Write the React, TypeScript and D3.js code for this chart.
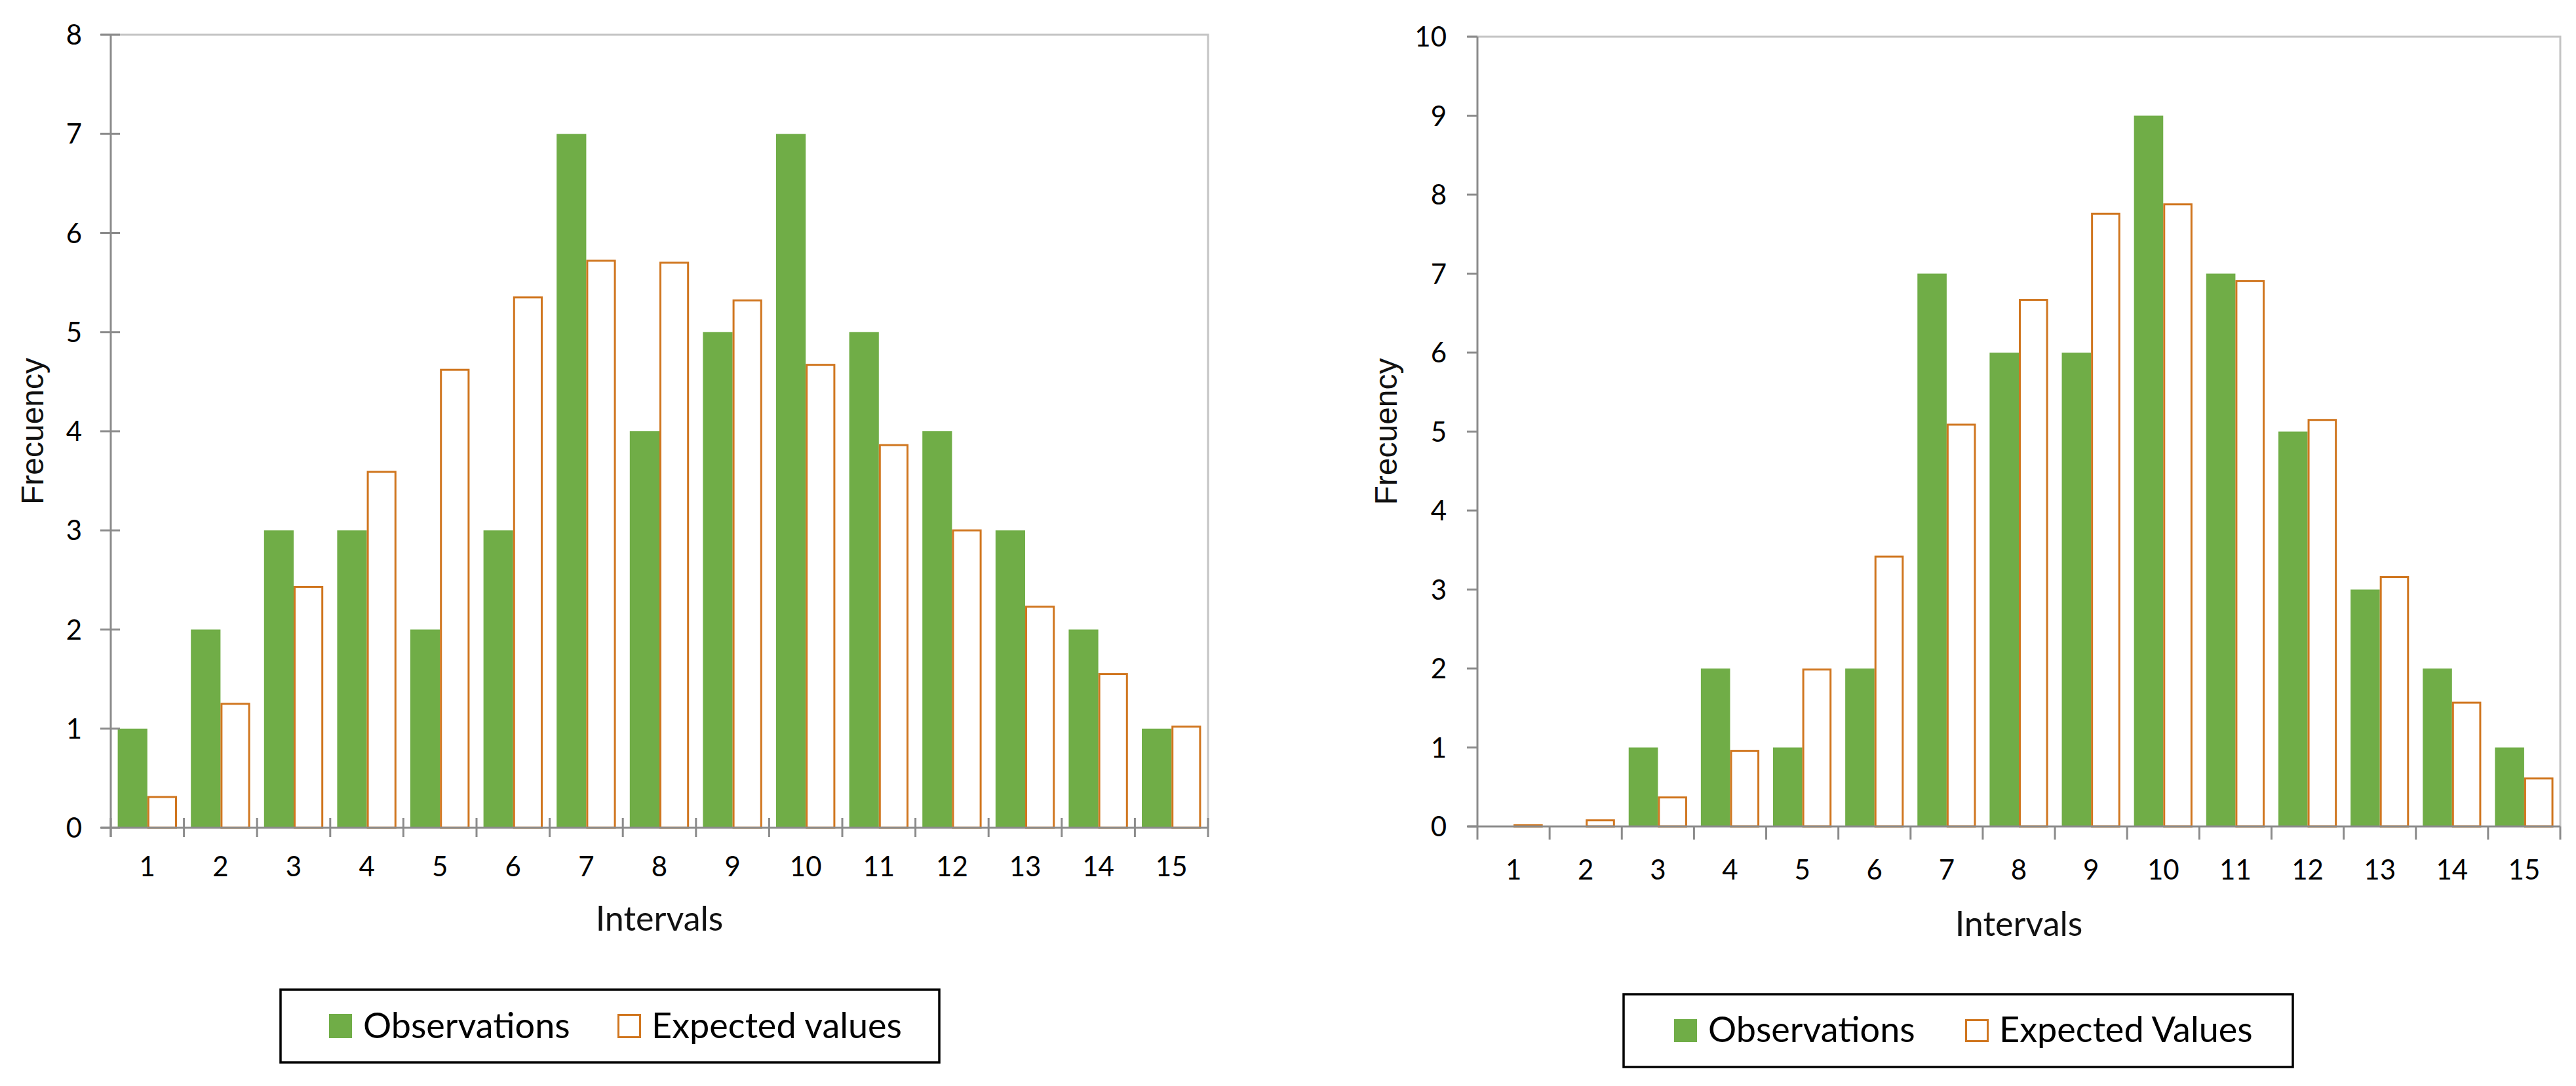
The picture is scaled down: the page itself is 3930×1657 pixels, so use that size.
import { useEffect, useRef } from 'react';
import * as d3 from 'd3';

// categories (intervals) and series values
const intervals = ['1', '2', '3', '4', '5', '6', '7', '8', '9', '10', '11', '12', '13', '14', '15'];

const observationsA = [1, 2, 3, 3, 2, 3, 7, 4, 5, 7, 5, 4, 3, 2, 1];
const expectedA = [0.32, 1.26, 2.44, 3.6, 4.63, 5.36, 5.73, 5.71, 5.33, 4.68, 3.87, 3.01, 2.24, 1.56, 1.03];

const observationsB = [0, 0, 1, 2, 1, 2, 7, 6, 6, 9, 7, 5, 3, 2, 1];
const expectedB = [0.03, 0.09, 0.38, 0.97, 2.0, 3.43, 5.1, 6.68, 7.77, 7.89, 6.92, 5.16, 3.17, 1.58, 0.62];

const yTicksA = [0, 1, 2, 3, 4, 5, 6, 7, 8];
const yTicksB = [0, 1, 2, 3, 4, 5, 6, 7, 8, 9, 10];

const legendA = ['Observations', 'Expected values'];
const legendB = ['Observations', 'Expected Values'];

const GREEN = '#70AD47';
const ORANGE = '#D0761F';
const AXIS = '#8B8B8B';
const FRAME = '#C4C4C4';
const TICK_FONT = 'Lato, "Open Sans", sans-serif';
const TITLE_FONT = '"Liberation Sans", Arial, sans-serif';

type ChartOpts = {
  x0: number; x1: number; y0: number; y1: number;
  yMax: number; ticks: number[];
  obs: number[]; exp: number[];
  crossTicks: boolean;
  yLabelX: number; xLabelBase: number;
  yTitleX: number; xTitleBase: number;
  legend: { x: number; y: number; w: number; h: number; sw1: number; sw2: number; swY: number; swH: number; base: number; labels: string[] };
};

function drawChart(svg: d3.Selection<SVGSVGElement, unknown, null, undefined>, o: ChartOpts) {
  const g = svg.append('g');
  const x = d3.scaleBand<string>().domain(intervals).range([o.x0, o.x1]).paddingInner(0.19).paddingOuter(0.095);
  const step = (o.x1 - o.x0) / intervals.length;
  const sub = d3.scaleBand<string>().domain(['obs', 'exp']).range([0, x.bandwidth()]);
  const y = d3.scaleLinear().domain([0, o.yMax]).range([o.y1, o.y0]);

  // frame (top + right)
  g.append('path')
    .attr('d', `M${o.x0 - 15},${y(o.yMax)}H${o.x1}V${o.y1}`)
    .attr('fill', 'none').attr('stroke', FRAME).attr('stroke-width', 3);

  // observations
  g.selectAll('.obs').data(o.obs).enter().append('rect')
    .attr('x', (_, i) => (x(intervals[i]) as number) + (sub('obs') as number))
    .attr('y', d => y(d))
    .attr('width', sub.bandwidth())
    .attr('height', d => o.y1 - y(d))
    .attr('fill', GREEN);

  // expected values (outlined)
  g.selectAll('.exp').data(o.exp).enter().append('rect')
    .attr('x', (_, i) => (x(intervals[i]) as number) + (sub('exp') as number) + 1.5)
    .attr('y', d => y(d) + 1.5)
    .attr('width', sub.bandwidth() - 3)
    .attr('height', d => Math.max(0, o.y1 - y(d) - 1.5))
    .attr('fill', '#fff')
    .attr('stroke', ORANGE).attr('stroke-width', 3);

  // y axis
  g.append('line').attr('x1', o.x0).attr('x2', o.x0).attr('y1', y(o.yMax)).attr('y2', o.y1 + (o.crossTicks ? 14 : 0))
    .attr('stroke', AXIS).attr('stroke-width', 3);
  g.selectAll('.ytick').data(o.ticks).enter().append('line')
    .attr('x1', o.x0 - 16).attr('x2', o.x0 + (o.crossTicks ? 14 : 0))
    .attr('y1', d => y(d)).attr('y2', d => y(d))
    .attr('stroke', AXIS).attr('stroke-width', 3);
  g.selectAll('.ylab').data(o.ticks).enter().append('text')
    .attr('x', o.yLabelX).attr('y', d => y(d)).attr('dy', '0.36em')
    .attr('text-anchor', 'end').attr('font-family', TICK_FONT).attr('font-size', 42).attr('fill', '#000')
    .text(d => d);

  // x axis
  g.append('line').attr('x1', o.x0 - 15).attr('x2', o.x1).attr('y1', o.y1).attr('y2', o.y1)
    .attr('stroke', AXIS).attr('stroke-width', 3);
  const xt = d3.range(intervals.length + 1).map(i => o.x0 + i * step);
  g.selectAll('.xtick').data(xt).enter().append('line')
    .attr('x1', d => d).attr('x2', d => d)
    .attr('y1', o.y1 - (o.crossTicks ? 15 : 0)).attr('y2', o.y1 + (o.crossTicks ? 14 : 20))
    .attr('stroke', AXIS).attr('stroke-width', 3);
  g.selectAll('.xlab').data(intervals).enter().append('text')
    .attr('x', d => (x(d) as number) + x.bandwidth() / 2).attr('y', o.xLabelBase)
    .attr('text-anchor', 'middle').attr('font-family', TICK_FONT).attr('font-size', 42).attr('fill', '#000')
    .text(d => d);

  // axis titles
  g.append('text')
    .attr('transform', `translate(${o.yTitleX},${(y(o.yMax) + o.y1) / 2}) rotate(-90)`)
    .attr('text-anchor', 'middle').attr('font-family', TITLE_FONT).attr('font-size', 48).attr('fill', '#111')
    .text('Frecuency');
  g.append('text')
    .attr('x', (o.x0 + o.x1) / 2).attr('y', o.xTitleBase)
    .attr('text-anchor', 'middle').attr('font-family', TICK_FONT).attr('font-size', 52).attr('fill', '#111')
    .text('Intervals');

  // legend
  const L = o.legend;
  g.append('rect').attr('x', L.x).attr('y', L.y).attr('width', L.w).attr('height', L.h)
    .attr('fill', '#fff').attr('stroke', '#000').attr('stroke-width', 3.5);
  g.append('rect').attr('x', L.sw1).attr('y', L.swY).attr('width', 35).attr('height', L.swH).attr('fill', GREEN);
  g.append('rect').attr('x', L.sw2 + 1.5).attr('y', L.swY + 1.5).attr('width', 33).attr('height', L.swH - 3)
    .attr('fill', '#fff').attr('stroke', ORANGE).attr('stroke-width', 3);
  g.append('text').attr('x', L.sw1 + 52).attr('y', L.base)
    .attr('font-family', TICK_FONT).attr('font-size', 54).attr('fill', '#000').text(L.labels[0]);
  g.append('text').attr('x', L.sw2 + 52).attr('y', L.base)
    .attr('font-family', TICK_FONT).attr('font-size', 54).attr('fill', '#000').text(L.labels[1]);
}

export default function App() {
  const ref = useRef<SVGSVGElement>(null);

  useEffect(() => {
    const svg = d3.select(ref.current as SVGSVGElement);
    svg.selectAll('*').remove();

    drawChart(svg, {
      x0: 169, x1: 1843, y0: 53, y1: 1263, yMax: 8, ticks: yTicksA,
      obs: observationsA, exp: expectedA, crossTicks: true,
      yLabelX: 125, xLabelBase: 1337, yTitleX: 66, xTitleBase: 1420,
      legend: { x: 428, y: 1510, w: 1005, h: 111, sw1: 502, sw2: 942, swY: 1547, swH: 37, base: 1584, labels: legendA },
    });

    drawChart(svg, {
      x0: 2254, x1: 3906, y0: 56, y1: 1261, yMax: 10, ticks: yTicksB,
      obs: observationsB, exp: expectedB, crossTicks: false,
      yLabelX: 2207, xLabelBase: 1342, yTitleX: 2131, xTitleBase: 1428,
      legend: { x: 2477, y: 1517, w: 1021, h: 111, sw1: 2554, sw2: 2998, swY: 1555, swH: 35, base: 1590, labels: legendB },
    });
  }, []);

  return (
    <svg
      ref={ref}
      width={3930}
      height={1657}
      style={{ position: 'absolute', left: 0, top: 0, display: 'block', background: '#fff' }}
    />
  );
}
